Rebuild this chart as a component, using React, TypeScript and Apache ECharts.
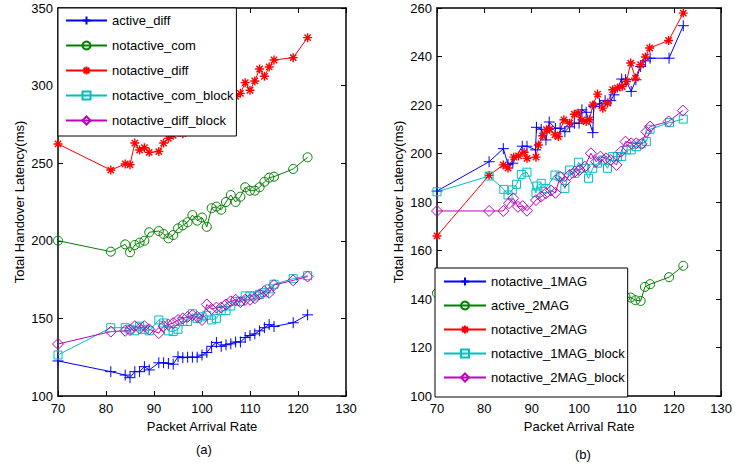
import React, { useEffect, useRef } from "react";
import * as echarts from "echarts";

// ---------- Data: chart (a) ----------
const xA = [70, 81, 84, 85, 86, 87, 88, 89, 91, 92, 93, 94, 95, 96, 97, 98, 99, 100, 101, 102, 103, 104, 105, 106, 107, 108, 109, 110, 111, 112, 113, 114, 115, 119, 122];
const activeDiffY = [122.6, 115.7, 113.5, 111.8, 115.7, 115.7, 118.9, 116.8, 121.4, 121.4, 121, 120.5, 125.3, 124.7, 125, 125, 125, 126.4, 128, 132, 134.5, 132, 133, 133.6, 134.8, 134.8, 137.7, 139, 140, 142, 144, 146, 144.8, 147.2, 152.3];
const notactiveComY = [200.1, 193, 197.7, 192.6, 197.3, 198.8, 200, 205.5, 206.3, 204.4, 201.6, 203.7, 208, 210, 212, 216.6, 213, 215, 209, 221, 222, 220, 225, 229.5, 225, 228.4, 234.5, 232.3, 232.3, 234.5, 238, 240.7, 241.3, 246.3, 253.8];
const notactiveDiffY = [262.4, 245.6, 249.5, 249, 263, 258.5, 260, 257, 257.5, 263, 266, 268, 270, 269, 272, 274, 276, 278, 280, 283, 285, 288, 290, 291, 293, 295, 301.9, 297, 303, 310.7, 306, 312, 316.5, 318, 330.9];
const notactiveComBlockY = [126.4, 144, 144, 143, 142, 145, 143, 142, 149, 147, 142, 141.5, 143, 148, 148, 153, 150, 151, 152, 149, 150, 155, 155, 158, 161, 161, 164.5, 164.5, 164.5, 165.5, 166.5, 169, 172, 175.6, 177.5];
const notactiveDiffBlockY = [133.5, 141.5, 142, 142.5, 145, 143.5, 145, 143, 140.5, 145, 146, 147, 149, 150, 151, 152, 151, 149, 159, 156, 157, 157, 159, 161, 162, 160.5, 162, 162, 163, 165.5, 167.5, 166.5, 171.5, 174.5, 177];
const namesA = ["active_diff", "notactive_com", "notactive_diff", "notactive_com_block", "notactive_diff_block"];

// ---------- Data: chart (b) ----------
const notactive1MagX = [70, 81, 84, 85, 86, 88, 89, 90.8, 91, 92, 93, 93.7, 95, 96, 97, 98, 99, 100, 100.6, 101.5, 102.9, 103.1, 104.3, 105.5, 106.7, 107.4, 109, 109.8, 111, 112, 113, 114, 115, 119, 122];
const notactive1MagY = [184.5, 196.6, 202, 195.5, 196, 203, 203, 201.5, 210.8, 210, 205.6, 213, 210.4, 210.4, 209, 211, 212.5, 212.5, 218, 217, 208.6, 219.4, 220.5, 221.8, 221.8, 224.2, 230.7, 230.4, 225.6, 230.4, 235.9, 238.2, 239.3, 239.3, 252.7];
const active2MagX = [70, 81, 84, 85, 86, 88, 90, 92, 94, 96, 98, 100, 102, 104, 106, 108, 109.1, 109.8, 110.9, 111.9, 113, 113.9, 115, 119, 122];
const active2MagY = [142.4, 135, 133, 131, 132, 130, 131, 132, 133, 133, 134, 135, 135, 136, 136, 137, 137.5, 140.9, 140.6, 139.5, 139.2, 145, 146.1, 149, 153.7];
const notactive2MagX = [70, 81, 84, 85, 86.2, 87.2, 88.4, 89, 90.9, 91.4, 92.3, 93.1, 93.8, 94.9, 95.6, 96.8, 98, 99, 99.8, 100.6, 101.5, 102.2, 102.9, 103.9, 105, 106, 107.1, 108.1, 109.1, 110, 110.9, 111.9, 113, 114, 114.9, 118.9, 122];
const notactive2MagY = [166, 191, 195.3, 194, 198.5, 199, 200.5, 198, 198.5, 203.5, 207.3, 209.8, 210, 207.7, 207, 213.9, 212.5, 216.2, 216.6, 213.9, 213.2, 213.9, 220, 224.5, 218.7, 220.8, 226.3, 227, 227.6, 229.7, 237.3, 231.1, 236.6, 239.8, 243.5, 246.6, 257.9];
const notactive1MagBlockX = [70, 81, 84.1, 85, 85.9, 86.8, 87.8, 89, 90.9, 91.1, 92, 93, 94.9, 96, 97, 98, 99.1, 99.9, 101, 102, 102.9, 103.9, 105, 106, 107.1, 108.1, 109, 110, 111, 112.1, 113.1, 114.2, 115, 119.1, 122];
const notactive1MagBlockY = [184.2, 190.7, 185.2, 182.9, 185, 187.3, 191.4, 192.3, 183.8, 186.6, 187.7, 185.6, 191.1, 190.4, 185.6, 193.2, 191.8, 196.4, 193.9, 189.8, 193.9, 196, 197.3, 193.9, 198.7, 198.7, 198.7, 201.5, 201.5, 202.8, 204, 204.9, 210, 212.7, 214.2];
const notactive2MagBlockX = [70, 81, 84, 85.2, 86.1, 87.1, 88.1, 89, 90.9, 92, 93, 94.1, 95, 96, 97, 98, 99.1, 100.1, 101.2, 102.5, 103.6, 104.5, 105.7, 106.7, 107.9, 108.9, 109.8, 111, 112.1, 113.2, 114.2, 115, 118.9, 121.9];
const notactive2MagBlockY = [176.3, 176.3, 176.3, 179.5, 181.5, 178, 178.3, 176.4, 180.8, 182.2, 183.6, 184.7, 183.8, 190.4, 188.4, 191.1, 192.5, 193.2, 194.6, 200.1, 196.6, 198.7, 198, 197.3, 195.3, 200.8, 204.9, 204.2, 204.2, 204, 209, 211.1, 213.2, 217.7];
const namesB = ["notactive_1MAG", "active_2MAG", "notactive_2MAG", "notactive_1MAG_block", "notactive_2MAG_block"];

const FONT = "'Liberation Sans', Arial, Helvetica, sans-serif";

const PLUS = "path://M5,0L5,10M0,5L10,5";
const STAR = "path://M5,0L5,10M0,5L10,5M1.5,1.5L8.5,8.5M8.5,1.5L1.5,8.5";

const zip = (xs: number[], ys: number[]) => xs.map((x, i) => [x, ys[i]]);

function mkSeries(name: string, idx: number, xs: number[], ys: number[], color: string, symbol: string, size: number, bw = 1) {
  return {
    name,
    type: "line",
    xAxisIndex: idx * 2,
    yAxisIndex: idx * 2,
    data: zip(xs, ys),
    symbol,
    symbolSize: size,
    showSymbol: true,
    lineStyle: { color, width: 1 },
    itemStyle: { color: "rgba(0,0,0,0)", borderColor: color, borderWidth: bw },
    emphasis: { disabled: true },
    silent: true,
    z: 2,
  };
}

function axisPair(grid: number, min: number, max: number, interval: number, isX: boolean, name: string, nameGap: number) {
  const common = {
    gridIndex: grid,
    type: "value",
    min,
    max,
    interval,
    splitLine: { show: false },
    axisLine: { show: true, onZero: false, lineStyle: { color: "#000", width: 1.5 } },
    axisTick: { show: true, inside: true, length: 5, lineStyle: { color: "#000", width: 1 } },
  };
  return [
    {
      ...common,
      position: isX ? "bottom" : "left",
      axisLabel: { show: true, color: "#000", fontSize: 13, fontFamily: FONT, margin: isX ? 6 : 5 },
      name,
      nameLocation: "middle",
      nameGap,
      nameTextStyle: { color: "#000", fontSize: 13, fontFamily: FONT },
    },
    {
      ...common,
      position: isX ? "top" : "right",
      axisLabel: { show: false },
    },
  ];
}

function legendCfg(data: string[], left: number, top: number, padding: number[], gap: number, width: number) {
  return {
    data,
    orient: "vertical",
    left,
    top,
    padding,
    itemGap: gap,
    itemWidth: width,
    itemHeight: 10,
    backgroundColor: "#fff",
    borderColor: "#000",
    borderWidth: 1,
    borderRadius: 0,
    selectedMode: false,
    textStyle: { color: "#000", fontSize: 13, lineHeight: 15, fontFamily: FONT },
    z: 10,
  };
}

export default function App() {
  const ref = useRef<HTMLDivElement>(null);
  useEffect(() => {
    if (!ref.current) return;
    const chart = echarts.init(ref.current, undefined, { renderer: "svg" });
    const option: any = {
      animation: false,
      backgroundColor: "#fff",
      textStyle: { fontFamily: FONT },
      grid: [
        { left: 58, top: 8, width: 288, height: 388 },
        { left: 437, top: 8, width: 288, height: 388 },
      ],
      xAxis: [
        ...axisPair(0, 70, 130, 10, true, "Packet Arrival Rate", 20),
        ...axisPair(1, 70, 130, 10, true, "Packet Arrival Rate", 20),
      ],
      yAxis: [
        ...axisPair(0, 100, 350, 50, false, "Total Handover Latency(ms)", 32),
        ...axisPair(1, 100, 260, 20, false, "Total Handover Latency(ms)", 32),
      ],
      legend: [
        legendCfg(namesA, 58, 8, [5, 3, 8, 7], 10, 41),
        legendCfg(namesB, 435, 268, [6, 3, 12, 8], 9, 42),
      ],
      graphic: [
        { type: "text", left: 196, top: 443, style: { text: "(a)", fontSize: 13, fontFamily: FONT, fill: "#000" } },
        { type: "text", left: 575, top: 448, style: { text: "(b)", fontSize: 13, fontFamily: FONT, fill: "#000" } },
      ],
      series: [
        mkSeries(namesA[0], 0, xA, activeDiffY, "#0000ff", PLUS, 11),
        mkSeries(namesA[1], 0, xA, notactiveComY, "#008000", "circle", 9),
        mkSeries(namesA[2], 0, xA, notactiveDiffY, "#ff0000", STAR, 9, 1.4),
        mkSeries(namesA[3], 0, xA, notactiveComBlockY, "#00bfbf", "rect", 8),
        mkSeries(namesA[4], 0, xA, notactiveDiffBlockY, "#bf00bf", "diamond", 11),
        mkSeries(namesB[0], 1, notactive1MagX, notactive1MagY, "#0000ff", PLUS, 11),
        mkSeries(namesB[1], 1, active2MagX, active2MagY, "#008000", "circle", 9),
        mkSeries(namesB[2], 1, notactive2MagX, notactive2MagY, "#ff0000", STAR, 9, 1.4),
        mkSeries(namesB[3], 1, notactive1MagBlockX, notactive1MagBlockY, "#00bfbf", "rect", 8),
        mkSeries(namesB[4], 1, notactive2MagBlockX, notactive2MagBlockY, "#bf00bf", "diamond", 11),
      ],
    };
    chart.setOption(option);
    return () => chart.dispose();
  }, []);
  return <div ref={ref} style={{ position: "fixed", left: 0, top: 0, width: 735, height: 468 }} />;
}
